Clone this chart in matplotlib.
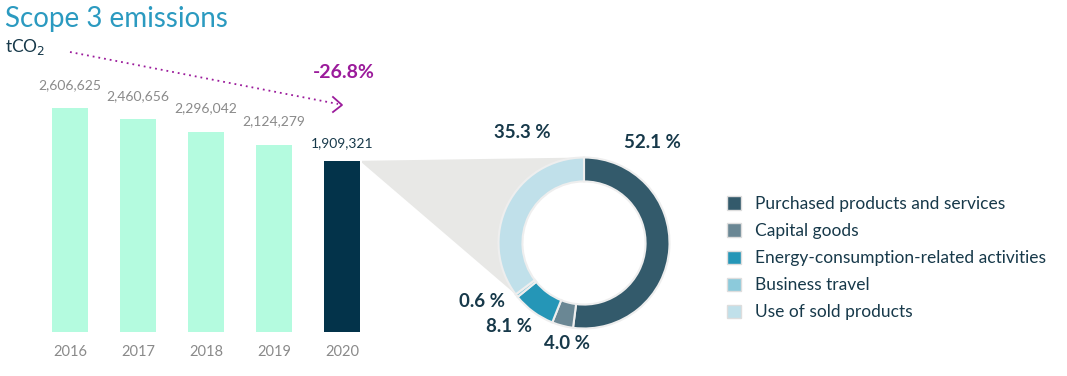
import matplotlib.pyplot as plt
from matplotlib.patches import Patch, Polygon
import numpy as np

plt.rcParams['font.family'] = ['Lato', 'DejaVu Sans']

years = ['2016', '2017', '2018', '2019', '2020']
emissions = [2606625, 2460656, 2296042, 2124279, 1909321]

categories = ['Purchased products and services', 'Capital goods',
              'Energy-consumption-related activities', 'Business travel',
              'Use of sold products']
shares = [52.1, 4.0, 8.1, 0.6, 35.3]
share_labels = ['52.1 %', '4.0 %', '8.1 %', '0.6 %', '35.3 %']

bar_colors = ['#b4fbdf'] * 4 + ['#03334a']
pie_colors = ['#335a6b', '#6a8794', '#2596b7', '#8ccadb', '#c0e0ea']
text_dark = '#17394a'
gray = '#8a8a8a'
purple = '#9b1b9b'

W, H = 1067, 376
fig = plt.figure(figsize=(W / 100, H / 100), dpi=100)


def box(x0, y0, x1, y1):
    # pixel box (top-left origin) -> figure fraction rect
    return [x0 / W, 1 - y1 / H, (x1 - x0) / W, (y1 - y0) / H]


# bars
ax = fig.add_axes(box(36, 60, 376, 332))
base = -370000
x = np.arange(len(years))
ax.bar(x, np.array(emissions) - base, bottom=base, width=0.53, color=bar_colors)
ax.set_xlim(-0.5, 4.5)
ax.set_ylim(base, 3251000)
ax.set_facecolor('none')
for s in ax.spines.values():
    s.set_visible(False)
ax.set_yticks([])
ax.set_xticks(x)
ax.set_xticklabels(years, color=gray, fontsize=10.5)
ax.tick_params(axis='x', length=0, pad=9)
for i, v in enumerate(emissions):
    ax.annotate(f'{v:,}', (i, v), xytext=(0, 17 if i < 4 else 13), textcoords='offset points',
                ha='center', va='center', fontsize=10,
                color=gray if i < 4 else text_dark)

# donut
pax = fig.add_axes(box(584 - 85.5, 243 - 85.5, 584 + 85.5, 243 + 85.5))
pax.pie(shares, colors=pie_colors, startangle=90, counterclock=False, radius=1,
        wedgeprops=dict(width=0.28, edgecolor='#eeeeee', linewidth=1.5))
pax.set_xlim(-1, 1)
pax.set_ylim(-1, 1)
pax.axis('off')

label_pos = [(0.80, 1.18), (-0.20, -1.17), (-0.88, -0.98), (-1.19, -0.69), (-0.725, 1.29)]
for lab, (lx, ly) in zip(share_labels, label_pos):
    pax.text(lx, ly, lab, ha='center', va='center', fontsize=13.5, fontweight='bold',
             color=text_dark, clip_on=False)

# grey zoom wedge from 2020 bar to donut
fig.canvas.draw()
p0 = ax.transData.transform((4 + 0.265, emissions[-1]))
ang = np.radians(np.linspace(90, 217, 40))
arc = pax.transData.transform(np.column_stack([np.cos(ang), np.sin(ang)]))
pts = np.vstack([p0 + [2, 0], arc, p0 + [2, -2]])
fig.patches.append(Polygon(pts, closed=True, facecolor='#e8e8e6', edgecolor='none',
                           transform=None, zorder=-1, figure=fig))

# legend
handles = [Patch(facecolor=c, edgecolor='#dddddd', linewidth=1) for c in pie_colors]
fig.legend(handles, categories, loc='upper left', bbox_to_anchor=(727 / W, 1 - 196 / H),
           frameon=False, fontsize=12.5, labelcolor=text_dark, handlelength=0.8,
           handleheight=0.8, handletextpad=0.8, labelspacing=0.64, borderaxespad=0,
           borderpad=0)

# titles
fig.text(5 / W, 1 - 19 / H, 'Scope 3 emissions', fontsize=20, color='#2b9ac0',
         ha='left', va='center')
fig.text(5 / W, 1 - 47 / H, 'tCO$_2$', fontsize=12.5, color=text_dark, ha='left', va='center')

# reduction arrow
fig.add_artist(plt.Line2D([70 / W, 338 / W], [1 - 52 / H, 1 - 104 / H], color=purple,
                          lw=1.3, linestyle=(0, (1, 2.2))))
fig.add_artist(plt.Line2D([333 / W, 342 / W, 333 / W], [1 - 97 / H, 1 - 105 / H, 1 - 112 / H],
                          color=purple, lw=1.3))
fig.text(344 / W, 1 - 72 / H, '-26.8%', fontsize=14, fontweight='bold', color=purple,
         ha='center', va='center')

fig.savefig('out.png', dpi=100)
